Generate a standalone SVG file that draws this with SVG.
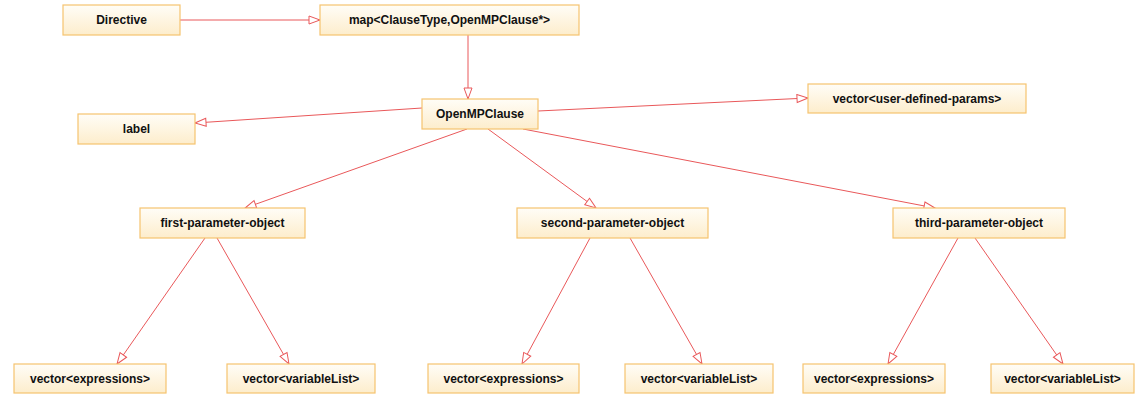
<svg xmlns="http://www.w3.org/2000/svg" width="1139" height="401" viewBox="0 0 1139 401">
<style>
.box{fill:url(#g);stroke:#f6c36f;stroke-width:1.2}
.t{font-family:"Liberation Sans",Arial,sans-serif;font-size:12px;font-weight:bold;fill:#111;text-anchor:middle;dominant-baseline:central}
.c{stroke:#e9585a;stroke-width:1;fill:none;marker-end:url(#a)}
</style>
<defs>
<linearGradient id="g" x1="0" y1="0" x2="0" y2="1">
<stop offset="0" stop-color="#fffdf7"/>
<stop offset="1" stop-color="#fdedcc"/>
</linearGradient>
<marker id="a" markerUnits="userSpaceOnUse" markerWidth="14" markerHeight="12" refX="12" refY="5" orient="auto" viewBox="0 0 14 12">
<path d="M1,1 L12,5 L1,9 z" fill="#fff" stroke="#e9585a" stroke-width="1"/>
</marker>
</defs>
<rect width="1139" height="401" fill="#fff"/>
<g id="connectors">
<line class="c" x1="180" y1="20" x2="320" y2="20"/>
<line class="c" x1="468" y1="35" x2="468" y2="99"/>
<line class="c" x1="422" y1="108" x2="195" y2="123"/>
<line class="c" x1="538" y1="111" x2="808" y2="98"/>
<line class="c" x1="467" y1="129" x2="245" y2="208"/>
<line class="c" x1="488" y1="129" x2="596" y2="208"/>
<line class="c" x1="523" y1="129" x2="935" y2="208"/>
<line class="c" x1="205" y1="238" x2="117" y2="364"/>
<line class="c" x1="217" y1="238" x2="289" y2="364"/>
<line class="c" x1="590" y1="238" x2="522" y2="364"/>
<line class="c" x1="630" y1="238" x2="702" y2="364"/>
<line class="c" x1="958" y1="238" x2="888" y2="364"/>
<line class="c" x1="975" y1="238" x2="1063" y2="364"/>
</g>
<g id="directive"><rect class="box" x="63" y="5" width="117" height="30"/><text class="t" x="121.5" y="20">Directive</text></g>
<g id="map"><rect class="box" x="320" y="5" width="259" height="30"/><text class="t" x="449.5" y="20">map&lt;ClauseType,OpenMPClause*&gt;</text></g>
<g id="openmpclause"><rect class="box" x="422" y="99" width="116" height="30"/><text class="t" x="480" y="114">OpenMPClause</text></g>
<g id="label"><rect class="box" x="78" y="114" width="117" height="30"/><text class="t" x="136.5" y="129">label</text></g>
<g id="userparams"><rect class="box" x="808" y="84" width="218" height="29"/><text class="t" x="917" y="98.5">vector&lt;user-defined-params&gt;</text></g>
<g id="first"><rect class="box" x="140" y="208" width="165" height="30"/><text class="t" x="222.5" y="223">first-parameter-object</text></g>
<g id="second"><rect class="box" x="517" y="208" width="191" height="30"/><text class="t" x="612.5" y="223">second-parameter-object</text></g>
<g id="third"><rect class="box" x="893" y="208" width="172" height="30"/><text class="t" x="979" y="223">third-parameter-object</text></g>
<g id="expr1"><rect class="box" x="14" y="364" width="152" height="29"/><text class="t" x="90" y="378.5">vector&lt;expressions&gt;</text></g>
<g id="var1"><rect class="box" x="227" y="364" width="148" height="29"/><text class="t" x="301" y="378.5">vector&lt;variableList&gt;</text></g>
<g id="expr2"><rect class="box" x="428" y="364" width="151" height="29"/><text class="t" x="503.5" y="378.5">vector&lt;expressions&gt;</text></g>
<g id="var2"><rect class="box" x="625" y="364" width="148" height="29"/><text class="t" x="699" y="378.5">vector&lt;variableList&gt;</text></g>
<g id="expr3"><rect class="box" x="803" y="364" width="142" height="29"/><text class="t" x="874" y="378.5">vector&lt;expressions&gt;</text></g>
<g id="var3"><rect class="box" x="991" y="364" width="143" height="29"/><text class="t" x="1062.5" y="378.5">vector&lt;variableList&gt;</text></g>
</svg>
